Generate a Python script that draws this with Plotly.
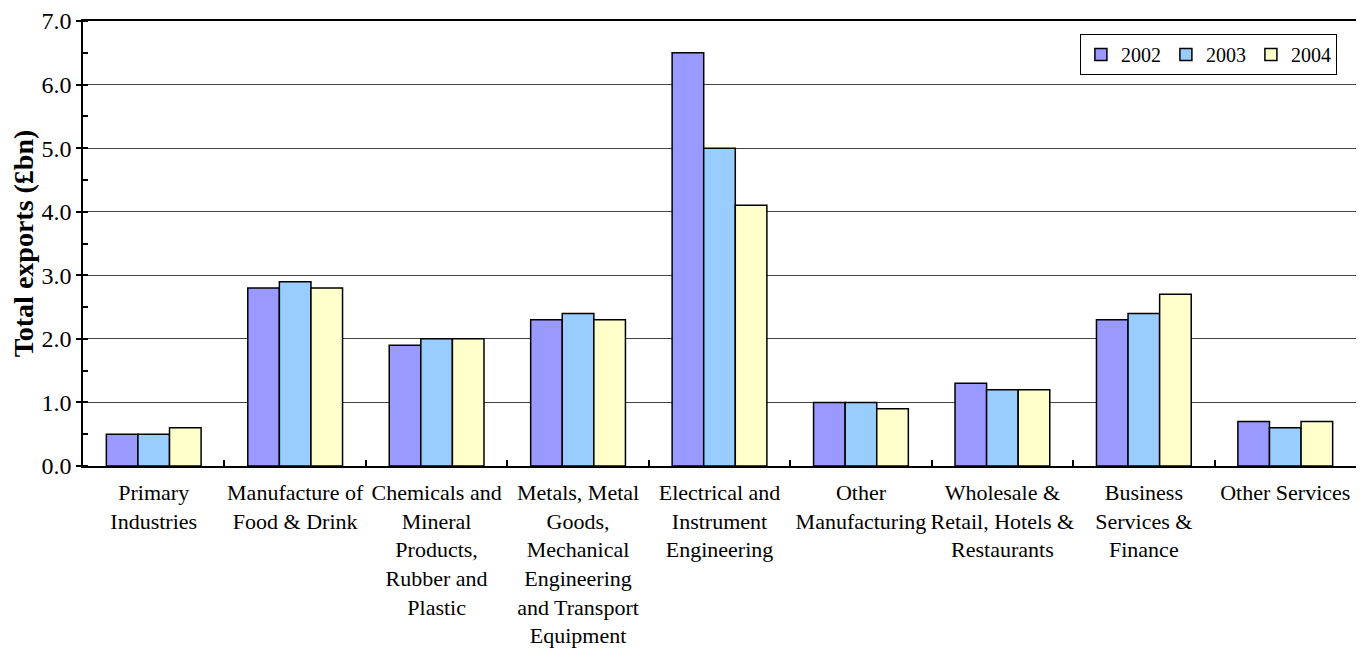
import plotly.graph_objects as go

categories = [
    "Primary<br>Industries",
    "Manufacture of<br>Food & Drink",
    "Chemicals and<br>Mineral<br>Products,<br>Rubber and<br>Plastic",
    "Metals, Metal<br>Goods,<br>Mechanical<br>Engineering<br>and Transport<br>Equipment",
    "Electrical and<br>Instrument<br>Engineering",
    "Other<br>Manufacturing",
    "Wholesale &<br>Retail, Hotels &<br>Restaurants",
    "Business<br>Services &<br>Finance",
    "Other Services",
]
series_names = ["2002", "2003", "2004"]
values_2002 = [0.5, 2.8, 1.9, 2.3, 6.5, 1.0, 1.3, 2.3, 0.7]
values_2003 = [0.5, 2.9, 2.0, 2.4, 5.0, 1.0, 1.2, 2.4, 0.6]
values_2004 = [0.6, 2.8, 2.0, 2.3, 4.1, 0.9, 1.2, 2.7, 0.7]
colors = ["#9999FF", "#99CCFF", "#FFFFCC"]

FONT = "Liberation Serif, Times New Roman, serif"

fig = go.Figure()
for name, vals, col in zip(series_names, [values_2002, values_2003, values_2004], colors):
    fig.add_trace(go.Bar(
        x=categories, y=vals, name=name,
        marker=dict(color=col, line=dict(color="black", width=1.5)),
    ))

fig.update_layout(
    width=1348, height=641,
    margin=dict(l=75, r=0, t=13, b=183, autoexpand=False),
    barmode="group", bargap=0.33, bargroupgap=0,
    plot_bgcolor="white", paper_bgcolor="white",
    font=dict(family=FONT, size=22, color="black"),
    legend=dict(
        orientation="h", x=0.985, y=0.971, xanchor="right", yanchor="top",
        bordercolor="black", borderwidth=1, bgcolor="white",
        font=dict(family=FONT, size=20), itemwidth=30,
        tracegroupgap=0,
    ),
    showlegend=True,
)
fig.update_xaxes(
    type="category", tickson="boundaries", tickangle=0,
    ticks="inside", ticklen=6, tickcolor="black", tickwidth=1.5,
    ticklabelstandoff=6,
    showline=True, linecolor="black", linewidth=1.5, mirror=True,
    showgrid=False,
    tickfont=dict(family=FONT, size=22),
)
fig.update_yaxes(
    range=[0, 7.0], dtick=1.0, tickformat=".1f",
    ticks="outside", ticklen=5, tickcolor="black", tickwidth=1.5,
    minor=dict(dtick=0.5, ticks="inside", ticklen=5, tickcolor="black", tickwidth=1.5, showgrid=False),
    showline=True, linecolor="black", linewidth=1.5, mirror=True,
    showgrid=True, gridcolor="#444444", gridwidth=1,
    zeroline=False,
    tickfont=dict(family=FONT, size=24),
    title=dict(text="<b>Total exports (£bn)</b>", font=dict(family=FONT, size=28), standoff=8),
)

fig.write_html("out.html")
